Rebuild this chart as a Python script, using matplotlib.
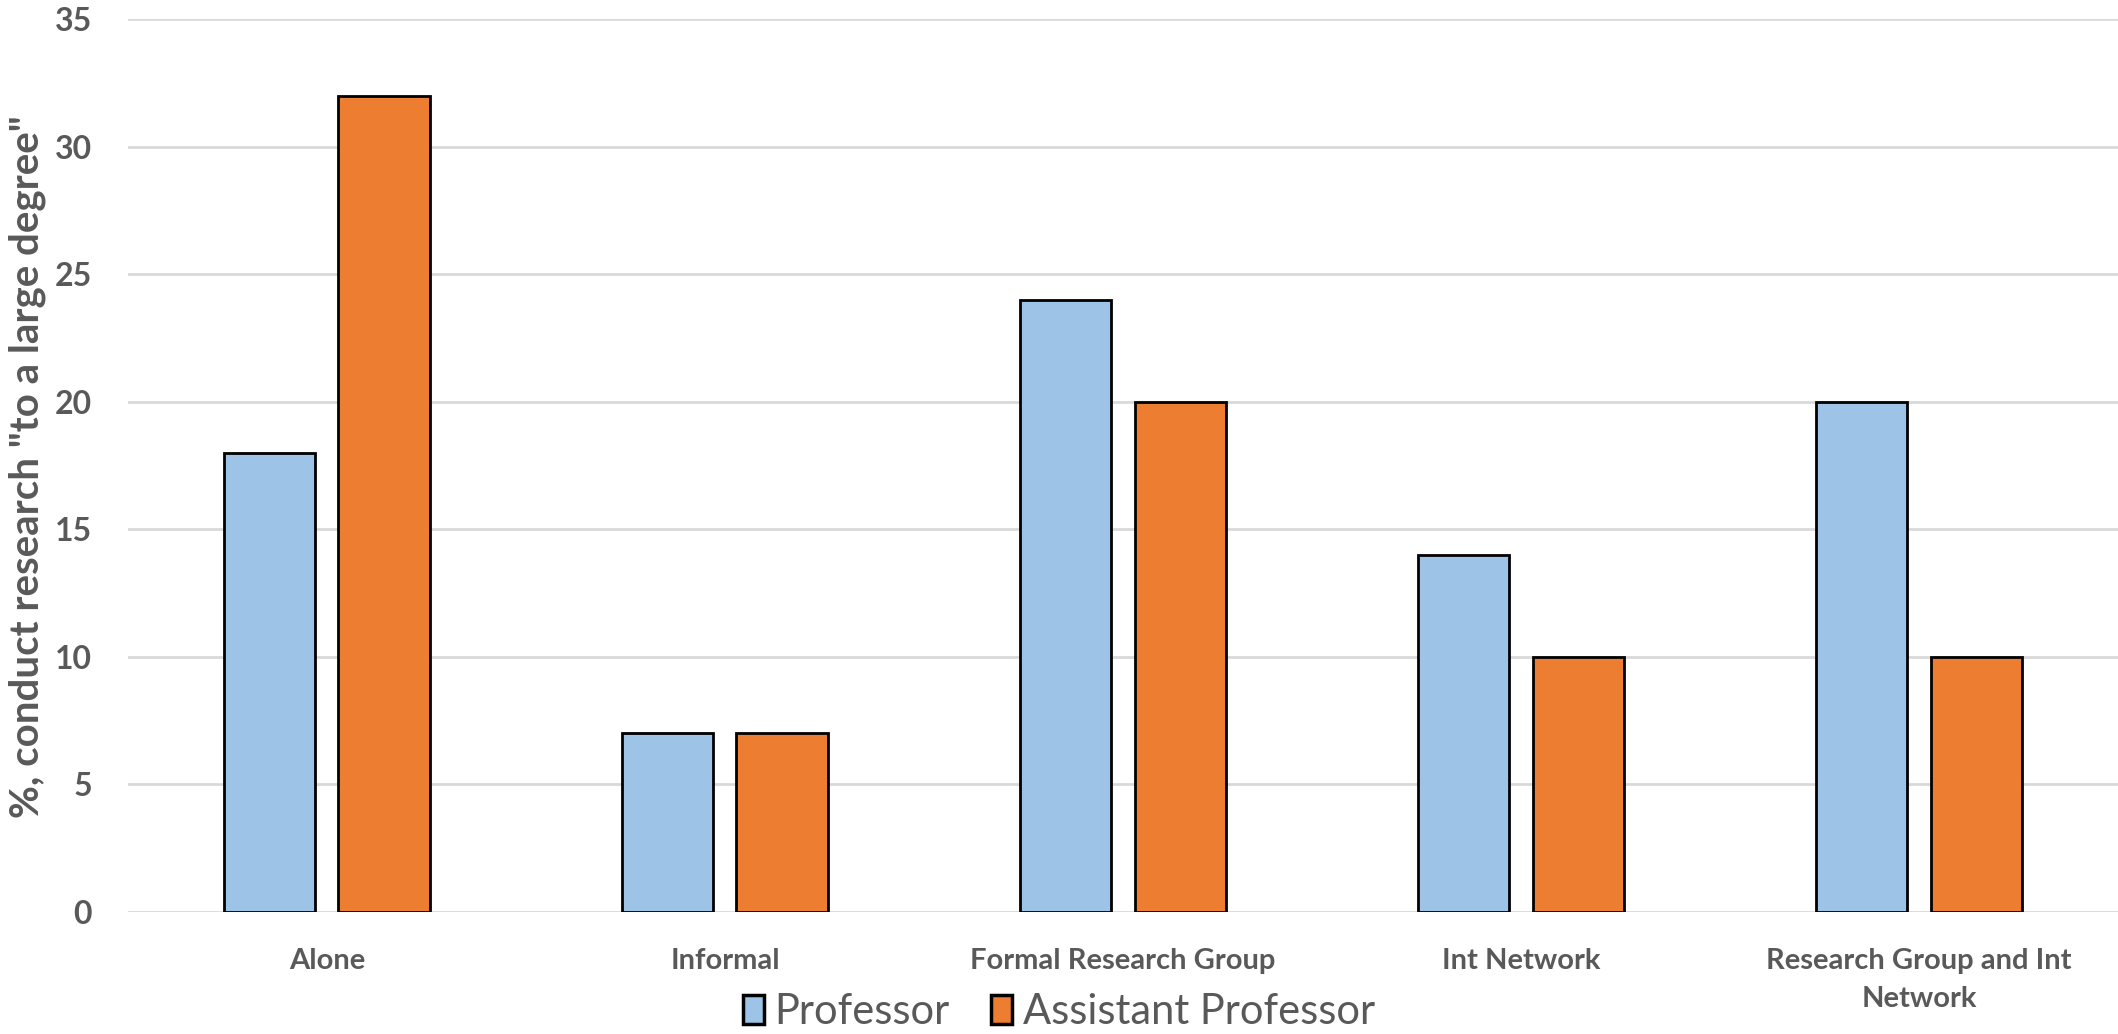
import numpy as np
import matplotlib.pyplot as plt
from matplotlib.patches import Patch

categories = ["Alone", "Informal", "Formal Research Group", "Int Network",
              "Research Group and Int\nNetwork"]
professor = [18, 7, 24, 14, 20]
assistant = [32, 7, 20, 10, 10]
series_names = ["Professor", "Assistant Professor"]

text_col = "#595959"
blue = "#9DC3E6"
orange = "#ED7D31"

plt.rcParams['font.family'] = ['Lato', 'DejaVu Sans']

fig = plt.figure(figsize=(21.18, 10.34), dpi=100)
ax = fig.add_axes([0.0604, 0.118, 0.9396, 0.8636])

x = np.arange(len(categories))
w = 0.23
off = 0.144
ax.bar(x - off, professor, w, color=blue, edgecolor="black", linewidth=2, zorder=3)
ax.bar(x + off, assistant, w, color=orange, edgecolor="black", linewidth=2, zorder=3)

ax.set_xlim(-0.5, len(categories) - 0.5)
ax.set_ylim(0, 35)
ax.set_yticks(np.arange(0, 36, 5))
ax.yaxis.grid(True, color="#d9d9d9", linewidth=2, zorder=0)
ax.set_axisbelow(True)
for s in ax.spines.values():
    s.set_visible(False)

ax.tick_params(axis='y', length=0, pad=26, labelsize=23, labelcolor=text_col)
ax.tick_params(axis='x', length=0, pad=26, labelsize=21, labelcolor=text_col)
ax.set_xticks(x)
ax.set_xticklabels(categories, fontweight='bold', linespacing=1.55)
for t in ax.get_yticklabels():
    t.set_fontweight('bold')

# axis title sits flush against the left edge, centred on the plot area
fig.text(0.004, 0.549, '%, conduct research "to a large degree"', rotation=90,
         ha='left', va='center', fontsize=29, fontweight='bold', color=text_col)

handles = [Patch(facecolor=blue, edgecolor="black", linewidth=2.5),
           Patch(facecolor=orange, edgecolor="black", linewidth=2.5)]
leg = fig.legend(handles, series_names, loc='center', bbox_to_anchor=(0.5, 0.021),
                 ncol=2, frameon=False, fontsize=30, handlelength=0.5,
                 handleheight=0.7, handletextpad=0.25, columnspacing=1.0)
for t in leg.get_texts():
    t.set_color(text_col)

fig.savefig("out.png", dpi=100)
